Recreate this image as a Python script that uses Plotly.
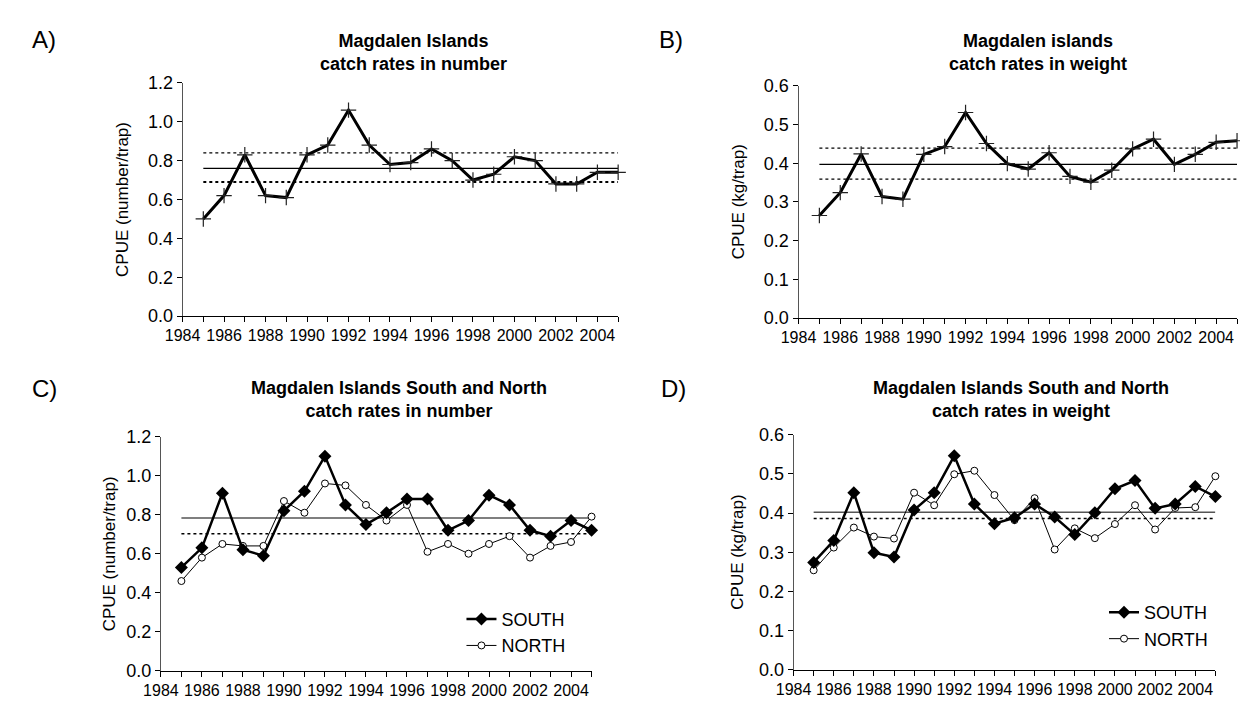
import plotly.graph_objects as go

# ---------------- data ----------------
years = list(range(1985, 2006))
tick_years = list(range(1984, 2006))
tick_labels = [str(y) if y % 2 == 0 else "" for y in tick_years]

A_number = [0.50, 0.62, 0.83, 0.62, 0.61, 0.83, 0.88, 1.06, 0.88, 0.78, 0.79,
            0.86, 0.80, 0.70, 0.73, 0.82, 0.80, 0.68, 0.68, 0.74, 0.74]
A_mean, A_upper, A_lower = 0.76, 0.84, 0.69

B_weight = [0.265, 0.324, 0.424, 0.314, 0.307, 0.423, 0.443, 0.531, 0.451, 0.399, 0.385,
            0.427, 0.366, 0.351, 0.382, 0.437, 0.462, 0.397, 0.423, 0.454, 0.458]
B_mean, B_upper, B_lower = 0.397, 0.439, 0.359

C_south = [0.53, 0.63, 0.91, 0.62, 0.59, 0.82, 0.92, 1.10, 0.85, 0.75, 0.81,
           0.88, 0.88, 0.72, 0.77, 0.90, 0.85, 0.72, 0.69, 0.77, 0.72]
C_north = [0.46, 0.58, 0.65, 0.64, 0.64, 0.87, 0.81, 0.96, 0.95, 0.85, 0.77,
           0.85, 0.61, 0.65, 0.60, 0.65, 0.69, 0.58, 0.64, 0.66, 0.79]
C_mean, C_lower = 0.783, 0.702

D_south = [0.274, 0.330, 0.452, 0.299, 0.288, 0.408, 0.452, 0.546, 0.423, 0.373, 0.388,
           0.423, 0.390, 0.345, 0.401, 0.462, 0.483, 0.412, 0.423, 0.468, 0.442]
D_north = [0.254, 0.312, 0.363, 0.340, 0.335, 0.452, 0.420, 0.499, 0.508, 0.446, 0.382,
           0.438, 0.307, 0.361, 0.336, 0.372, 0.420, 0.358, 0.413, 0.415, 0.494]
D_mean, D_lower = 0.402, 0.386

panel_letters = ["A)", "B)", "C)", "D)"]
titles = ["<b>Magdalen Islands<br>catch rates in number</b>",
          "<b>Magdalen islands<br>catch rates in weight</b>",
          "<b>Magdalen Islands South and North<br>catch rates in number</b>",
          "<b>Magdalen Islands South and North<br>catch rates in weight</b>"]
ytitles = ["CPUE (number/trap)", "CPUE (kg/trap)", "CPUE (number/trap)", "CPUE (kg/trap)"]

# ---------------- layout helpers ----------------
W, H = 1240, 709
FONT = "Arial, Liberation Sans, sans-serif"

def px_x(p):
    return p / W

def px_y(p):
    return 1 - p / H

# plot-area pixel boxes: (left, right, top, bottom)
boxes = {
    1: (167, 609, 75, 315),
    2: (792, 1237, 78, 317),
    3: (145, 582, 439, 680),
    4: (787, 1215, 437, 679),
}
title_pos = {1: (401, 44), 2: (1035, 44), 3: (387, 401), 4: (1018, 401)}
ytitle_x = {1: 106, 2: 732, 3: 93, 4: 730}
letter_pos = [(12, 30), (648, 30), (12, 390), (650, 390)]

fig = go.Figure()

def ax(n):
    return ("x" if n == 1 else f"x{n}"), ("y" if n == 1 else f"y{n}")

def ref_line(n, val, dash, width, color="black"):
    xa, ya = ax(n)
    fig.add_trace(go.Scatter(x=[years[0], years[-1]], y=[val, val], mode="lines",
                             line=dict(color=color, width=width, dash=dash),
                             xaxis=xa, yaxis=ya, showlegend=False, hoverinfo="skip",
                             cliponaxis=False))

# Panel A
ref_line(1, A_upper, "dot", 1.2)
ref_line(1, A_lower, "dot", 2)
ref_line(1, A_mean, "solid", 1.2)
fig.add_trace(go.Scatter(x=years, y=A_number, mode="lines+markers",
                         line=dict(color="black", width=3),
                         marker=dict(symbol="cross-thin", size=11, line=dict(color="#222", width=1.2)),
                         xaxis="x", yaxis="y", showlegend=False, cliponaxis=False))
# Panel B
ref_line(2, B_upper, "dot", 1.2)
ref_line(2, B_lower, "dot", 1.2)
ref_line(2, B_mean, "solid", 1.2)
fig.add_trace(go.Scatter(x=years, y=B_weight, mode="lines+markers",
                         line=dict(color="black", width=3),
                         marker=dict(symbol="cross-thin", size=11, line=dict(color="#222", width=1.2)),
                         xaxis="x2", yaxis="y2", showlegend=False, cliponaxis=False))

# Panel C
ref_line(3, C_mean, "solid", 1.5, "#555555")
ref_line(3, C_lower, "dot", 1.5)
fig.add_trace(go.Scatter(x=years, y=C_north, mode="lines+markers", name="NORTH",
                         line=dict(color="black", width=1),
                         marker=dict(symbol="circle", size=7, color="white", line=dict(color="black", width=1)),
                         xaxis="x3", yaxis="y3", legend="legend", legendrank=2, cliponaxis=False))
fig.add_trace(go.Scatter(x=years, y=C_south, mode="lines+markers", name="SOUTH",
                         line=dict(color="black", width=2.5),
                         marker=dict(symbol="diamond", size=10, color="black"),
                         xaxis="x3", yaxis="y3", legend="legend", legendrank=1, cliponaxis=False))

# Panel D
ref_line(4, D_mean, "solid", 1.5, "#555555")
ref_line(4, D_lower, "dot", 1.5)
fig.add_trace(go.Scatter(x=years, y=D_north, mode="lines+markers", name="NORTH",
                         line=dict(color="black", width=1),
                         marker=dict(symbol="circle", size=7, color="white", line=dict(color="black", width=1)),
                         xaxis="x4", yaxis="y4", legend="legend2", legendrank=2, cliponaxis=False))
fig.add_trace(go.Scatter(x=years, y=D_south, mode="lines+markers", name="SOUTH",
                         line=dict(color="black", width=2.5),
                         marker=dict(symbol="diamond", size=10, color="black"),
                         xaxis="x4", yaxis="y4", legend="legend2", legendrank=1, cliponaxis=False))

layout = dict(
    width=W, height=H,
    margin=dict(l=0, r=0, t=0, b=0),
    paper_bgcolor="white", plot_bgcolor="white",
    font=dict(family=FONT, color="black"),
    annotations=[],
)

yranges = {1: (0, 1.2, 0.2), 2: (0, 0.6, 0.1), 3: (0, 1.2, 0.2), 4: (0, 0.6, 0.1)}
for n, (l, r, t, b) in boxes.items():
    xa = "xaxis" if n == 1 else f"xaxis{n}"
    ya = "yaxis" if n == 1 else f"yaxis{n}"
    xname, yname = ax(n)
    layout[xa] = dict(domain=[px_x(l), px_x(r)], range=[1984, 2005], anchor=yname,
                      tickmode="array", tickvals=tick_years, ticktext=tick_labels,
                      ticks="outside", ticklen=5, tickwidth=1, tickcolor="black",
                      showline=True, linecolor="black", linewidth=1,
                      showgrid=False, zeroline=False,
                      tickfont=dict(size=16, family=FONT, color="black"))
    y0, y1, dt = yranges[n]
    layout[ya] = dict(domain=[px_y(b), px_y(t)], range=[y0, y1], anchor=xname,
                      tick0=0, dtick=dt, tickformat=".1f",
                      ticks="outside", ticklen=5, tickwidth=1, tickcolor="black",
                      showline=True, linecolor="#555555", linewidth=1,
                      showgrid=False, zeroline=False,
                      tickfont=dict(size=18, family=FONT, color="black"))
    tx, ty = title_pos[n]
    layout["annotations"].append(dict(
        text=titles[n - 1], x=px_x(tx), y=px_y(ty),
        xref="paper", yref="paper", xanchor="center", yanchor="middle", showarrow=False,
        font=dict(size=18, family=FONT, color="black")))
    layout["annotations"].append(dict(
        text=ytitles[n - 1], x=px_x(ytitle_x[n]), y=px_y((t + b) / 2),
        xref="paper", yref="paper", xanchor="center", yanchor="middle", showarrow=False,
        textangle=-90, font=dict(size=17, family=FONT, color="black")))

for txt, (lx, ly) in zip(panel_letters, letter_pos):
    layout["annotations"].append(dict(
        text=txt, x=px_x(lx), y=px_y(ly), xref="paper", yref="paper",
        xanchor="left", yanchor="middle", showarrow=False,
        font=dict(size=24, family=FONT, color="black")))

layout["legend"] = dict(x=px_x(450), y=px_y(608), xanchor="left", yanchor="top",
                        bgcolor="rgba(0,0,0,0)", itemwidth=30, traceorder="normal",
                        font=dict(size=18, family=FONT, color="black"))
layout["legend2"] = dict(x=px_x(1102), y=px_y(601), xanchor="left", yanchor="top",
                         bgcolor="rgba(0,0,0,0)", itemwidth=30, traceorder="normal",
                         font=dict(size=18, family=FONT, color="black"))

fig.update_layout(**layout)
fig.write_html("out.html",
               config={"displayModeBar": False},
               post_script="document.body.style.margin='0px';document.body.style.overflow='hidden';")
